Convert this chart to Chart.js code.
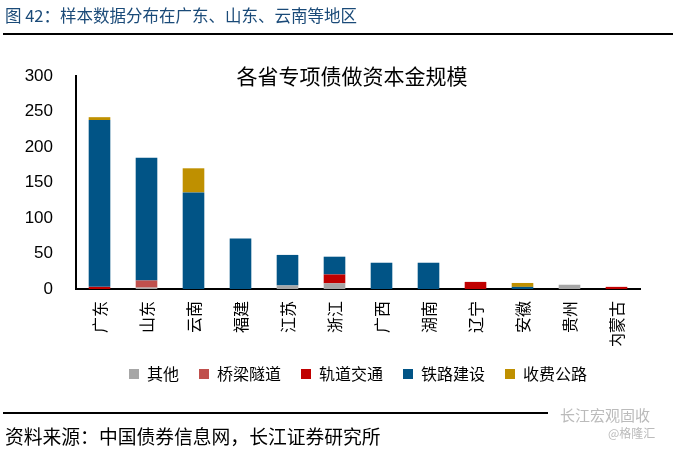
<!DOCTYPE html>
<html>
<head>
<meta charset="utf-8">
<script src="https://cdn.jsdelivr.net/npm/chart.js@4.4.1/dist/chart.umd.min.js"></script>
<style>
  html, body { margin: 0; padding: 0; background: #fff; }
  #wrap { position: relative; width: 677px; height: 449px; overflow: hidden; font-family: "Noto Sans CJK SC", sans-serif; }
  #chart { position: absolute; left: 0; top: 0; }
  .head { position: absolute; left: 5px; top: 3px; font-size: 16.5px; color: #1a4a78; white-space: nowrap; }
  .rule { position: absolute; left: 3px; height: 2px; background: #000; }
  .src { position: absolute; left: 5px; top: 422px; font-size: 18.8px; color: #000; white-space: nowrap; }
  .wm1 { position: absolute; left: 560px; top: 404px; font-size: 15px; color: #bbb; white-space: nowrap; }
  .wm2 { position: absolute; left: 608px; top: 424px; font-size: 12px; color: #bbb; white-space: nowrap; }
</style>
</head>
<body>
<div id="wrap">
  <canvas id="chart" width="677" height="449"></canvas>
  <div class="head">图 42：样本数据分布在广东、山东、云南等地区</div>
  <div class="rule" style="top:33px;width:670px"></div>
  <div class="rule" style="top:412px;width:545px"></div>
  <div class="src">资料来源：中国债券信息网，长江证券研究所</div>
  <div class="wm1">长江宏观固收</div>
  <div class="wm2">@格隆汇</div>
</div>
<script>
const provinces = ["广东", "山东", "云南", "福建", "江苏", "浙江", "广西", "湖南", "辽宁", "安徽", "贵州", "内蒙古"];
const other   = [0, 2, 0, 0, 5, 8, 0, 0, 0, 0, 6, 0];
const bridge  = [0, 10, 0, 0, 0, 0, 0, 0, 0, 0, 0, 0];
const transit = [3, 0, 0, 0, 0, 12.5, 0, 0, 10, 0, 0, 3];
const railway = [235, 173, 136, 71, 43, 25, 37, 37, 0, 3, 0, 0];
const toll    = [4, 0, 34, 0, 0, 0, 0, 0, 0, 5.5, 0, 0];
const yTicks  = [0, 50, 100, 150, 200, 250, 300];

const FONT = "'Liberation Sans', 'Noto Sans CJK SC', sans-serif";

const titlePlugin = {
  id: "innerTitle",
  afterDraw(chart) {
    const { ctx, chartArea } = chart;
    ctx.save();
    ctx.font = "21px 'Noto Sans CJK SC'";
    ctx.fillStyle = "#000";
    ctx.textAlign = "center";
    ctx.textBaseline = "middle";
    ctx.fillText("各省专项债做资本金规模", (chartArea.left + chartArea.right) / 2 - 6, 76);
    ctx.restore();
  }
};

new Chart(document.getElementById("chart"), {
  type: "bar",
  data: {
    labels: provinces,
    datasets: [
      { label: "其他", data: other, backgroundColor: "#a6a6a6" },
      { label: "桥梁隧道", data: bridge, backgroundColor: "#c0504d" },
      { label: "轨道交通", data: transit, backgroundColor: "#c00000" },
      { label: "铁路建设", data: railway, backgroundColor: "#015486" },
      { label: "收费公路", data: toll, backgroundColor: "#bf9000" }
    ]
  },
  options: {
    responsive: false,
    animation: false,
    barPercentage: 0.46,
    categoryPercentage: 1,
    layout: { padding: { left: 12, right: 37, top: 76, bottom: 57 } },
    plugins: {
      legend: {
        position: "bottom",
        fullSize: false,
        labels: {
          boxWidth: 10,
          boxHeight: 10,
          padding: 20,
          color: "#000",
          font: { family: "'Noto Sans CJK SC'", size: 16 }
        }
      },
      tooltip: { enabled: false }
    },
    scales: {
      x: {
        stacked: true,
        grid: { display: false, drawTicks: false },
        border: { color: "#000", width: 2 },
        ticks: {
          color: "#000",
          maxRotation: 90,
          minRotation: 90,
          padding: 12,
          font: { family: "'Noto Sans CJK SC'", size: 16 }
        },
        afterFit(scale) { scale.height = 57; }
      },
      y: {
        stacked: true,
        min: 0,
        max: 300,
        afterBuildTicks(scale) { scale.ticks = yTicks.map(v => ({ value: v })); },
        grid: { display: false, drawOnChartArea: false, drawTicks: true, tickLength: 6, tickColor: "#000", tickWidth: 2 },
        border: { color: "#000", width: 2 },
        ticks: {
          color: "#000",
          padding: 17,
          font: { family: FONT, size: 17 }
        },
        afterFit(scale) { scale.width = 64; }
      }
    }
  },
  plugins: [titlePlugin]
});
</script>
</body>
</html>
